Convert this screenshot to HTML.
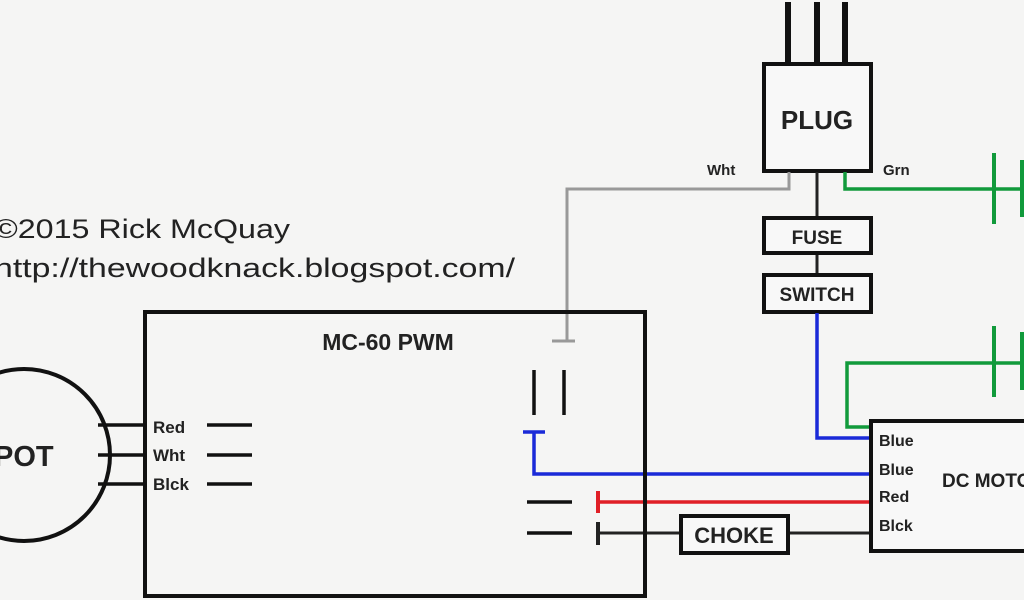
<!DOCTYPE html>
<html><head><meta charset="utf-8"><style>
html,body{margin:0;padding:0;background:#f5f5f4;}
svg{display:block;}
.b{font-family:"Liberation Sans",Arial,sans-serif;font-weight:bold;fill:#222;}
.r{font-family:"Liberation Sans",Arial,sans-serif;fill:#222;}
</style></head><body>
<svg width="1024" height="600" viewBox="0 0 1024 600" xmlns="http://www.w3.org/2000/svg">
<rect width="1024" height="600" fill="#f5f5f4"/>
<!-- plug prongs -->
<g stroke="#111" stroke-width="6"><line x1="788" y1="2" x2="788" y2="64"/><line x1="817" y1="2" x2="817" y2="64"/><line x1="845" y1="2" x2="845" y2="64"/></g>
<rect x="764" y="64" width="107" height="107" fill="#f8f8f8" stroke="#111" stroke-width="4"/>
<text x="817" y="129" class="b" font-size="26" text-anchor="middle">PLUG</text>
<text x="707" y="175" class="b" font-size="15">Wht</text>
<text x="883" y="175" class="b" font-size="15">Grn</text>
<!-- gray wht -->
<polyline points="789,172 789,189 567,189 567,341" fill="none" stroke="#999" stroke-width="3"/>
<line x1="552" y1="341" x2="575" y2="341" stroke="#999" stroke-width="3"/>
<!-- green -->
<polyline points="845,172 845,189 1024,189" fill="none" stroke="#119a3b" stroke-width="3.5"/>
<line x1="994" y1="153" x2="994" y2="224" stroke="#119a3b" stroke-width="4"/>
<line x1="1022" y1="160" x2="1022" y2="217" stroke="#119a3b" stroke-width="4"/>
<polyline points="871,427 847,427 847,363 1024,363" fill="none" stroke="#119a3b" stroke-width="3.5"/>
<line x1="994" y1="326" x2="994" y2="397" stroke="#119a3b" stroke-width="4"/>
<line x1="1022" y1="332" x2="1022" y2="390" stroke="#119a3b" stroke-width="4"/>
<!-- fuse switch -->
<line x1="817" y1="172" x2="817" y2="218" stroke="#222" stroke-width="3"/>
<line x1="817" y1="253" x2="817" y2="275" stroke="#222" stroke-width="3"/>
<rect x="764" y="218" width="107" height="35" fill="#f8f8f8" stroke="#111" stroke-width="4"/>
<text x="817" y="244" class="b" font-size="19" text-anchor="middle">FUSE</text>
<rect x="764" y="275" width="107" height="37" fill="#f8f8f8" stroke="#111" stroke-width="4"/>
<text x="817" y="301" class="b" font-size="19" text-anchor="middle">SWITCH</text>
<!-- blue -->
<polyline points="817,313 817,438 871,438" fill="none" stroke="#1a2ad8" stroke-width="3.5"/>
<polyline points="534,432 534,474 871,474" fill="none" stroke="#1a2ad8" stroke-width="3.5"/>
<line x1="523" y1="432" x2="545" y2="432" stroke="#1a2ad8" stroke-width="3.5"/>
<!-- red -->
<line x1="598" y1="502" x2="871" y2="502" stroke="#e01f26" stroke-width="3.5"/>
<line x1="598" y1="491" x2="598" y2="513" stroke="#e01f26" stroke-width="4"/>
<!-- black choke line -->
<line x1="598" y1="533" x2="871" y2="533" stroke="#222" stroke-width="3"/>
<line x1="598" y1="522" x2="598" y2="545" stroke="#222" stroke-width="4"/>
<rect x="681" y="516" width="107" height="37" fill="#f8f8f8" stroke="#111" stroke-width="4"/>
<text x="734" y="543" class="b" font-size="22" text-anchor="middle" fill="#333">CHOKE</text>
<!-- PWM box -->
<rect x="145" y="312" width="500" height="284" fill="none" stroke="#111" stroke-width="4"/>
<text x="388" y="350" class="b" font-size="23" text-anchor="middle">MC-60 PWM</text>
<g stroke="#111" stroke-width="3.5">
<line x1="534" y1="370" x2="534" y2="415"/><line x1="564" y1="370" x2="564" y2="415"/>
<line x1="527" y1="502" x2="572" y2="502"/><line x1="527" y1="533" x2="572" y2="533"/>
<line x1="207" y1="425" x2="252" y2="425"/><line x1="207" y1="455" x2="252" y2="455"/><line x1="207" y1="484" x2="252" y2="484"/>
<line x1="98" y1="425" x2="145" y2="425"/><line x1="98" y1="455" x2="145" y2="455"/><line x1="98" y1="484" x2="145" y2="484"/>
</g>
<text x="153" y="433" class="b" font-size="17" fill="#333">Red</text>
<text x="153" y="461" class="b" font-size="17" fill="#333">Wht</text>
<text x="153" y="490" class="b" font-size="17" fill="#333">Blck</text>
<!-- POT -->
<ellipse cx="24" cy="455" rx="86" ry="86" fill="none" stroke="#111" stroke-width="4"/>
<text x="-6" y="466" class="b" font-size="29" fill="#333">POT</text>
<!-- motor -->
<rect x="871" y="421" width="160" height="130" fill="#f8f8f8" stroke="#111" stroke-width="4"/>
<text x="879" y="446" class="b" font-size="16">Blue</text>
<text x="879" y="475" class="b" font-size="16">Blue</text>
<text x="879" y="502" class="b" font-size="16">Red</text>
<text x="879" y="531" class="b" font-size="16">Blck</text>
<text x="942" y="487" class="b" font-size="19">DC MOTOR</text>
<!-- credits -->
<text x="-6" y="238" class="r" font-size="27" textLength="296" lengthAdjust="spacingAndGlyphs">©2015 Rick McQuay</text>
<text x="-6" y="277" class="r" font-size="27" textLength="521" lengthAdjust="spacingAndGlyphs">http://thewoodknack.blogspot.com/</text>
</svg>
</body></html>
